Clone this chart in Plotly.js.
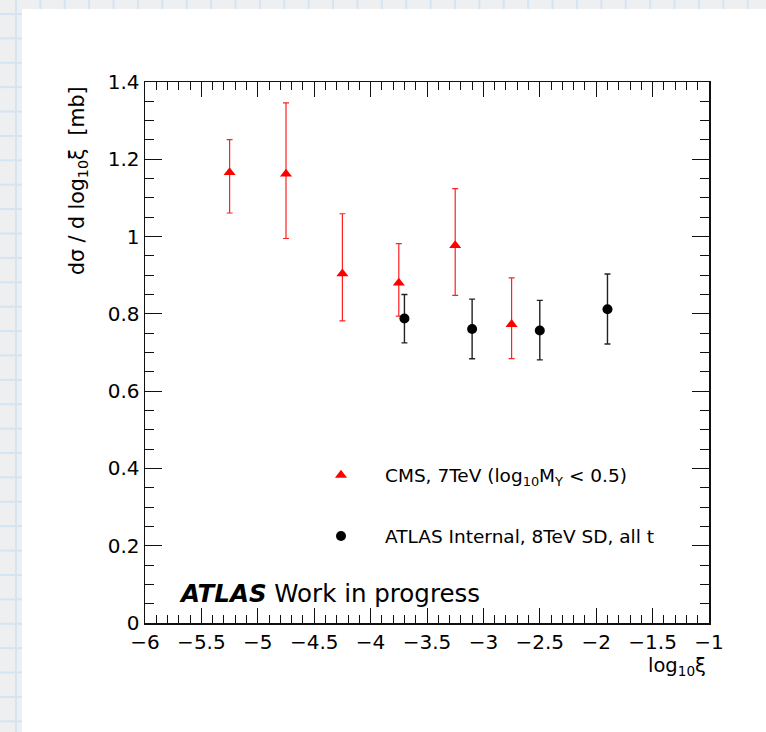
<!DOCTYPE html>
<html>
<head>
<meta charset="utf-8">
<script src="https://cdn.plot.ly/plotly-3.0.1.min.js"></script>
<style>
  html, body { margin: 0; padding: 0; width: 766px; height: 732px; overflow: hidden; }
  body {
    background-color: #eeeff1;
    background-image:
      linear-gradient(to right, #d3e4f2 1.5px, transparent 1.5px),
      linear-gradient(to bottom, #d3e4f2 1.5px, transparent 1.5px);
    background-size: 24.4px 24.4px;
    background-position: 15px 13px;
    position: relative;
  }
  #sheet { position: absolute; left: 22px; top: 9px; right: 0; bottom: 0; background: #ffffff; }
  #chart { position: absolute; left: 0; top: 0; width: 766px; height: 732px; }
</style>
</head>
<body>
<div id="sheet"></div>
<div id="chart"></div>
<script>
// ---- data ----
const cmsX      = [-5.25, -4.75, -4.25, -3.75, -3.25, -2.75];
const cmsY      = [1.166, 1.162, 0.904, 0.880, 0.977, 0.773];
const cmsErrUp  = [0.085, 0.184, 0.155, 0.102, 0.147, 0.120];
const cmsErrLo  = [0.105, 0.167, 0.122, 0.086, 0.129, 0.089];

const atlasX     = [-3.70, -3.10, -2.50, -1.90];
const atlasY     = [0.788, 0.761, 0.757, 0.812];
const atlasErrUp = [0.062, 0.077, 0.078, 0.091];
const atlasErrLo = [0.063, 0.077, 0.076, 0.090];

const cmsName   = 'CMS, 7TeV (log<sub>10</sub>M<sub>Y</sub> &lt; 0.5)';
const atlasName = 'ATLAS Internal, 8TeV SD, all t';

const xTickVals = [-6, -5.5, -5, -4.5, -4, -3.5, -3, -2.5, -2, -1.5, -1];
const yTickVals = [0, 0.2, 0.4, 0.6, 0.8, 1, 1.2, 1.4];

const FONT = 'DejaVu Sans, Liberation Sans, Arial, sans-serif';

const traces = [
  {
    type: 'scatter', mode: 'markers', name: cmsName, legend: 'legend',
    x: cmsX, y: cmsY,
    marker: { symbol: 'triangle-up', size: 10.5, color: '#ff0000' },
    error_y: { type: 'data', symmetric: false, array: cmsErrUp, arrayminus: cmsErrLo,
               color: '#ff2020', thickness: 1.2, width: 3 }
  },
  {
    type: 'scatter', mode: 'markers', name: atlasName, legend: 'legend2',
    x: atlasX, y: atlasY,
    marker: { symbol: 'circle', size: 10, color: '#000000' },
    error_y: { type: 'data', symmetric: false, array: atlasErrUp, arrayminus: atlasErrLo,
               color: '#222222', thickness: 1.4, width: 3 }
  }
];

const axisCommon = {
  showgrid: false, zeroline: false,
  showline: true, linecolor: '#111', linewidth: 1.5,
  mirror: 'ticks', ticks: 'inside', tickcolor: '#111', tickwidth: 1,
  tickfont: { family: FONT, size: 20, color: '#000' }
};

const layout = {
  width: 766, height: 732,
  paper_bgcolor: 'rgba(0,0,0,0)', plot_bgcolor: 'rgba(0,0,0,0)',
  margin: { l: 145, r: 57, t: 82, b: 108.5 },
  font: { family: FONT, color: '#000' },
  xaxis: Object.assign({}, axisCommon, {
    range: [-6, -1], tickvals: xTickVals, ticklen: 15,
    minor: { dtick: 0.1, tick0: -6, ticks: 'inside', ticklen: 8, tickcolor: '#111', tickwidth: 1 }
  }),
  yaxis: Object.assign({}, axisCommon, {
    range: [0, 1.4], tickvals: yTickVals, ticklen: 17,
    minor: { dtick: 0.05, tick0: 0, ticks: 'inside', ticklen: 9, tickcolor: '#111', tickwidth: 1 }
  }),
  showlegend: true,
  legend: {
    x: 0.2695, y: 0.2725, xanchor: 'left', yanchor: 'middle',
    bgcolor: 'rgba(0,0,0,0)', borderwidth: 0, itemwidth: 78,
    font: { family: FONT, size: 18.5, color: '#000' }
  },
  legend2: {
    x: 0.2695, y: 0.160, xanchor: 'left', yanchor: 'middle',
    bgcolor: 'rgba(0,0,0,0)', borderwidth: 0, itemwidth: 78,
    font: { family: FONT, size: 18.5, color: '#000' }
  },
  annotations: [
    {
      xref: 'paper', yref: 'paper', x: 0.0562, y: 0.0545, xanchor: 'left', yanchor: 'middle',
      showarrow: false, text: '<b><i>ATLAS</i></b> Work in progress',
      font: { family: FONT, size: 24.5, color: '#000' }
    },
    {
      xref: 'paper', yref: 'paper', x: -0.1188, y: 0.9945, xanchor: 'center', yanchor: 'top',
      showarrow: false, textangle: -90, text: 'dσ / d log<sub>10</sub>ξ  [mb]',
      font: { family: FONT, size: 20.5, color: '#000' }
    },
    {
      xref: 'paper', yref: 'paper', x: 0.998, y: -0.0545, xanchor: 'right', yanchor: 'top',
      showarrow: false, text: 'log<sub>10</sub>ξ',
      font: { family: FONT, size: 19.5, color: '#000' }
    }
  ]
};

Plotly.newPlot('chart', traces, layout, { displayModeBar: false, staticPlot: true });
</script>
</body>
</html>
